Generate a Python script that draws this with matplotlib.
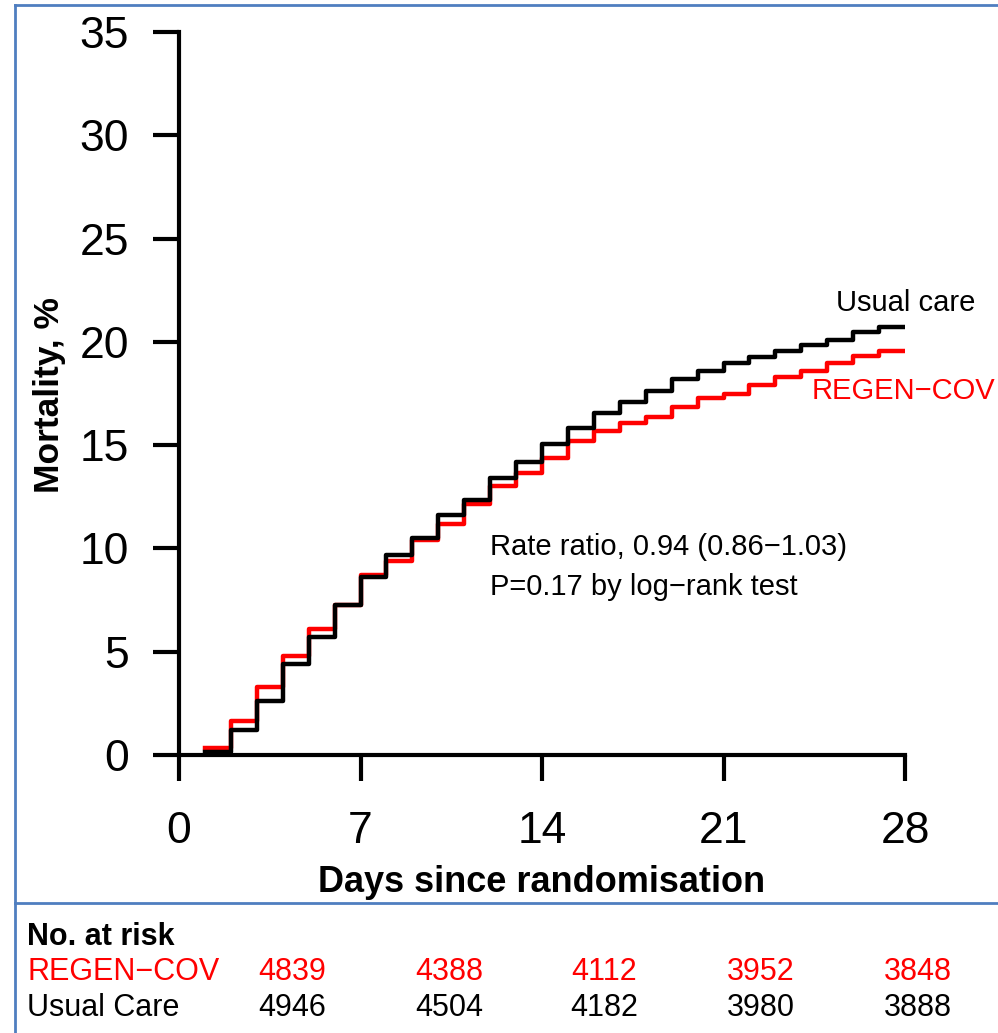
import matplotlib
matplotlib.use("Agg")
import matplotlib.pyplot as plt
from matplotlib.lines import Line2D

plt.rcParams['font.family'] = ['Liberation Sans', 'DejaVu Sans']

# Data (cumulative mortality, %, step starts at each day)
days = list(range(1, 28))
usual_care = [0.15, 1.2, 2.6, 4.4, 5.7, 7.25, 8.6, 9.7, 10.5, 11.6,
              12.35, 13.4, 14.2, 15.05, 15.85, 16.55, 17.1, 17.6, 18.2, 18.6,
              19.0, 19.25, 19.55, 19.85, 20.1, 20.5, 20.7]
regen_cov = [0.35, 1.65, 3.3, 4.8, 6.1, 7.25, 8.7, 9.4, 10.4, 11.2,
             12.15, 13.0, 13.65, 14.4, 15.2, 15.7, 16.05, 16.35, 16.85, 17.3,
             17.5, 17.9, 18.3, 18.6, 19.0, 19.3, 19.55]
end_day = 28

x_ticks = [0, 7, 14, 21, 28]
y_ticks = [0, 5, 10, 15, 20, 25, 30, 35]

# numbers at risk
risk_regen = [4839, 4388, 4112, 3952, 3848]
risk_usual = [4946, 4504, 4182, 3980, 3888]

W, H = 998, 1033
fig = plt.figure(figsize=(W / 100, H / 100), dpi=100)

# axes placed in pixel terms
left, right, top, bottom = 179, 905, 32, 755
ax = fig.add_axes([left / W, 1 - bottom / H, (right - left) / W, (bottom - top) / H])

ax.step(days + [end_day], regen_cov + [regen_cov[-1]], where='post', color='#ff0000', lw=3.2)
ax.step(days + [end_day], usual_care + [usual_care[-1]], where='post', color='black', lw=3.2)

ax.set_xlim(0, 28)
ax.set_ylim(0, 35)
ax.set_xticks(x_ticks)
ax.set_yticks(y_ticks)
for s in ['top', 'right']:
    ax.spines[s].set_visible(False)
for s in ['left', 'bottom']:
    ax.spines[s].set_linewidth(3)
    ax.spines[s].set_capstyle('projecting')
ax.tick_params(axis='both', direction='out', length=19, width=3, labelsize=32)
ax.tick_params(axis='y', pad=17)
ax.tick_params(axis='x', pad=21)

# annotations
ax.text(12.0, 10.07, "Rate ratio, 0.94 (0.86\u22121.03)", fontsize=21, ha='left', va='center')
ax.text(12.0, 8.13, "P=0.17 by log\u2212rank test", fontsize=21, ha='left', va='center')
ax.text(25.34, 21.9, "Usual care", fontsize=21, ha='left', va='center', clip_on=False)
ax.text(24.4, 17.6, "REGEN\u2212COV", fontsize=21, ha='left', va='center', color='#ff0000', clip_on=False)

# axis titles
fig.text(50 / W, 1 - 395 / H, "Mortality, %", rotation=90, fontsize=25.5, fontweight='bold',
         ha='center', va='center')
fig.text(542 / W, 1 - 882 / H, "Days since randomisation", fontsize=26, fontweight='bold',
         ha='center', va='center')

# number at risk table
fig.text(27 / W, 1 - 937 / H, "No. at risk", fontsize=22, fontweight='bold', ha='left', va='center')
fig.text(27 / W, 1 - 972 / H, "REGEN\u2212COV", fontsize=22, color='#ff0000', ha='left', va='center')
fig.text(27 / W, 1 - 1008 / H, "Usual Care", fontsize=22, ha='left', va='center')
col_x = [292, 449, 604, 761, 918]
for cx, r1, r2 in zip(col_x, risk_regen, risk_usual):
    fig.text(cx / W, 1 - 972 / H, str(r1), fontsize=22, color='#ff0000', ha='center', va='center')
    fig.text(cx / W, 1 - 1008 / H, str(r2), fontsize=22, ha='center', va='center')

# blue frame lines
frame_col = '#4f7ec0'
fig.add_artist(Line2D([15 / W, 15 / W], [0, 1 - 5 / H], color=frame_col, lw=2, transform=fig.transFigure))
fig.add_artist(Line2D([15 / W, 1], [1 - 5 / H, 1 - 5 / H], color=frame_col, lw=2, transform=fig.transFigure))
fig.add_artist(Line2D([15 / W, 1], [1 - 903 / H, 1 - 903 / H], color=frame_col, lw=2, transform=fig.transFigure))

fig.savefig("out.png", dpi=100)
